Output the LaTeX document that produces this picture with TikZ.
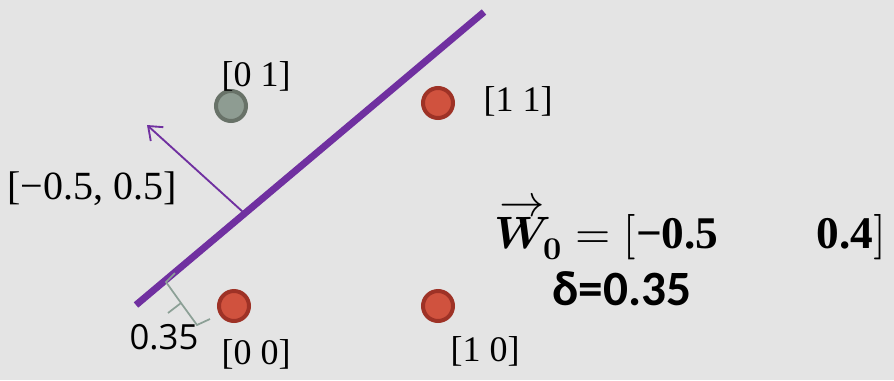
\documentclass[tikz,border=0pt]{standalone}
\usepackage{fontspec}
\usepackage{amsmath}
\usepackage{unicode-math}
\setmainfont{Liberation Serif}
\setmathfont{Latin Modern Math}
\newfontfamily\labsans{Open Sans}
\newfontfamily\calib{Carlito}
\usetikzlibrary{arrows.meta}
\definecolor{bg}{RGB}{228,228,228}
\definecolor{purp}{RGB}{112,48,160}
\definecolor{redfill}{RGB}{208,82,62}
\definecolor{redline}{RGB}{158,50,38}
\definecolor{grayfill}{RGB}{142,156,146}
\definecolor{grayline}{RGB}{104,114,104}
\definecolor{bracecol}{RGB}{140,160,150}
\tikzset{
  redpt/.style={circle, fill=redfill, draw=redline, line width=3pt, minimum size=22.5pt, inner sep=0pt},
  graypt/.style={circle, fill=grayfill, draw=grayline, line width=3pt, minimum size=22.5pt, inner sep=0pt},
  lab/.style={font=\fontsize{27}{30}\selectfont, inner sep=0pt},
  sep/.style={draw=purp, line width=5.2pt},
  normal/.style={draw=purp, line width=1.4pt, -{Straight Barb[length=9pt,width=14pt,line width=1.4pt]}},
  bracestyle/.style={draw=bracecol, line width=1.3pt}
}
\begin{document}
\begin{tikzpicture}[x=0.75pt,y=-0.75pt]
\fill[bg] (0,0) rectangle (894,380);
\useasboundingbox (0,0) rectangle (894,380);
% separating line
\coordinate (l1) at (136,305);
\coordinate (l2) at (484,12);
\draw[sep] (l1) -- (l2);
% normal vector
\coordinate (nb) at (243,212);
\coordinate (nt) at (147,125);
\draw[normal] (nb) -- (nt);
% points
\node[graypt] (p01) at (231,106) {};
\node[redpt] (p11) at (438,103) {};
\node[redpt] (p00) at (234,306) {};
\node[redpt] (p10) at (438,306) {};
% labels
\node[lab] (t01) at (256,76) {[0 1]};
\node[lab] (t11) at (518,101) {[1 1]};
\node[lab] (t00) at (256,354) {[0 0]};
\node[lab] (t10) at (485,351) {[1 0]};
\node[lab, font=\fontsize{30}{33}\selectfont] (tw) at (92,189) {[−0.5, 0.5]};
% distance brace
\coordinate (b1) at (175,273);
\coordinate (b2) at (166,282);
\coordinate (b3) at (181,303);
\coordinate (b4) at (168,313);
\coordinate (b5) at (197,325);
\coordinate (b6) at (210,319);
\draw[bracestyle] (b1) -- (b2) -- (b3) -- (b5) -- (b6);
\draw[bracestyle] (b3) -- (b4);
\node[font=\labsans\fontsize{26}{28}\selectfont, inner sep=0pt] (t035) at (164,337) {0.35};
% equations
\node[inner sep=0pt, anchor=base west, font=\fontsize{34}{38}\selectfont] (eqw) at (494,248)
  {$\rlap{\hspace{0.12em}\raisebox{0.7em}{$\rightarrow$}}\symbfit{W}_{\symbf{0}} = [\text{\bfseries −0.5}\qquad\,\text{\bfseries 0.4}]$};
\node[inner sep=0pt, font=\calib\bfseries\fontsize{37}{40}\selectfont] (eqd) at (622,289) {δ=0.35};
\end{tikzpicture}
\end{document}
